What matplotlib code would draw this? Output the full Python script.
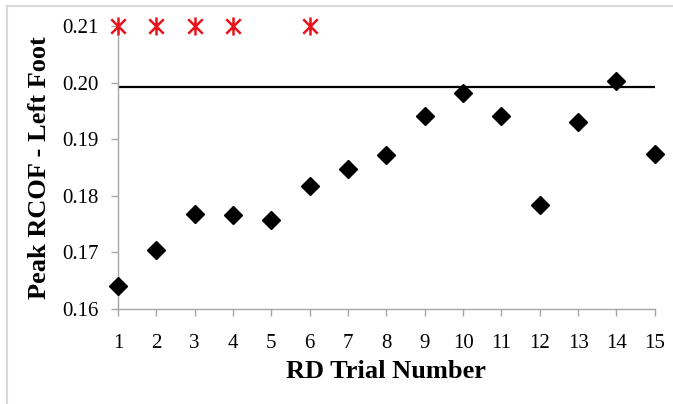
import matplotlib.pyplot as plt
from matplotlib.path import Path
from matplotlib.lines import Line2D

# data
trials = list(range(1, 16))
peak_rcof = [0.1641, 0.1704, 0.1768, 0.1766, 0.1758, 0.1817, 0.1848, 0.1872,
             0.1941, 0.1982, 0.1941, 0.1784, 0.1930, 0.2003, 0.1874]
star_trials = [1, 2, 3, 4, 6]
star_level = 0.21
threshold = 0.1993

plt.rcParams['font.family'] = ['Liberation Serif', 'DejaVu Serif']

fig = plt.figure(figsize=(6.73, 4.04), dpi=100)
ax = fig.add_axes([0.1753, 0.235, 0.7977, 0.7006])

# Excel-like asterisk: vertical bar plus an X
star = Path([(0, -1), (0, 1), (-0.8, -0.8), (0.8, 0.8), (-0.8, 0.8), (0.8, -0.8)],
            [Path.MOVETO, Path.LINETO, Path.MOVETO, Path.LINETO, Path.MOVETO, Path.LINETO])

ax.axhline(threshold, color='black', lw=1.6, zorder=2)
ax.plot(trials, peak_rcof, ls='none', marker='D', ms=9.5, color='black',
        clip_on=False, zorder=3)
ax.plot(star_trials, [star_level] * len(star_trials), ls='none', marker=star,
        ms=13, mew=1.8, color='#e8141b', clip_on=False, zorder=3)

ax.set_xlim(1, 15)
ax.set_ylim(0.16, 0.21)
ax.set_xticks(trials)
ax.set_yticks([0.16, 0.17, 0.18, 0.19, 0.20, 0.21])
ax.set_yticklabels(['0.16', '0.17', '0.18', '0.19', '0.20', '0.21'])

for s in ['top', 'right']:
    ax.spines[s].set_visible(False)
for s in ['left', 'bottom']:
    ax.spines[s].set_color('#a6a6a6')
    ax.spines[s].set_linewidth(1.0)

ax.tick_params(axis='both', colors='#a6a6a6', labelcolor='black',
               labelsize=15, length=5, width=1, direction='out')
ax.tick_params(axis='x', pad=13)
ax.tick_params(axis='y', pad=9)

ax.set_xlabel('RD Trial Number', fontsize=19, fontweight='bold', labelpad=5)
ax.set_ylabel('Peak RCOF - Left Foot', fontsize=19, fontweight='bold', labelpad=8)

# light frame around the chart area
fig.add_artist(Line2D([0.010, 1.0], [0.985, 0.985], transform=fig.transFigure,
                      color='#d9d9d9', lw=1.5))
fig.add_artist(Line2D([0.010, 0.010], [0.0, 0.985], transform=fig.transFigure,
                      color='#d9d9d9', lw=1.5))

fig.savefig('out.png', dpi=100)
